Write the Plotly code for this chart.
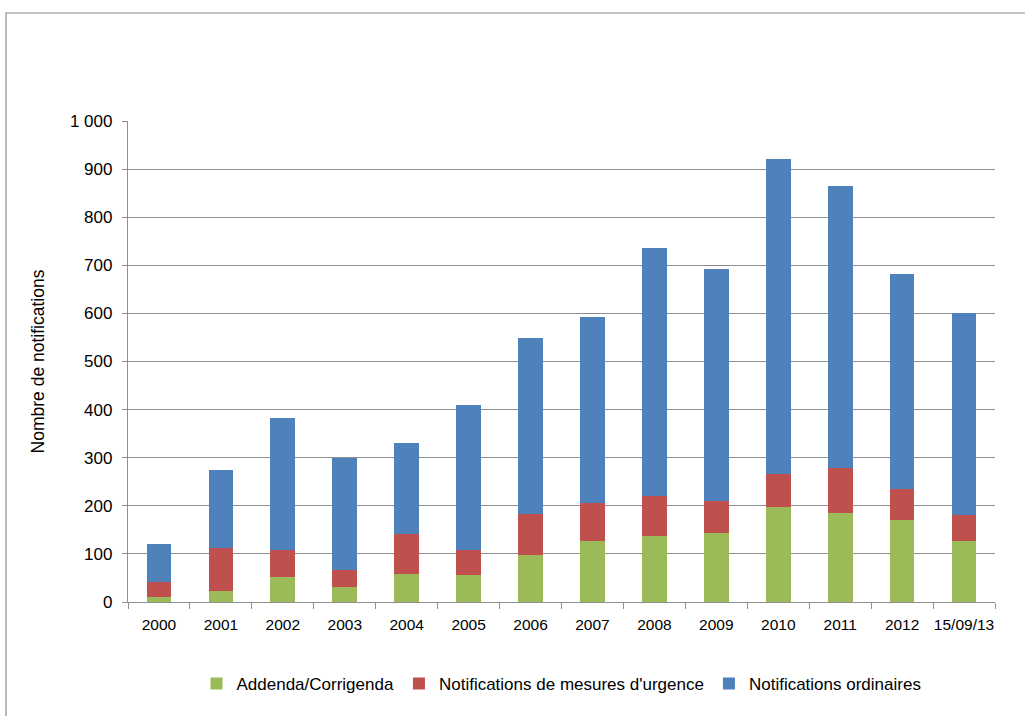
import plotly.graph_objects as go

categories = ["2000", "2001", "2002", "2003", "2004", "2005", "2006",
              "2007", "2008", "2009", "2010", "2011", "2012", "15/09/13"]
addenda = [11, 23, 51, 31, 58, 56, 97, 127, 137, 143, 198, 186, 170, 127]
urgence = [30, 89, 58, 36, 84, 53, 85, 78, 83, 66, 69, 93, 64, 53]
ordinaires = [79, 163, 273, 233, 189, 301, 366, 387, 517, 483, 653, 585, 447, 420]

W, H = 1025, 716
L, R, T, B = 128, 30, 121, 114
pw, ph = W - L - R, H - T - B


def px(x):
    return (x - L) / pw


def py(y):
    return (H - B - y) / ph


font = "Liberation Sans"
fig = go.Figure()
series = [
    ("Addenda/Corrigenda", addenda, "#9bbb59"),
    ("Notifications de mesures d'urgence", urgence, "#c0504d"),
    ("Notifications ordinaires", ordinaires, "#4f81bd"),
]
for name, vals, col in series:
    fig.add_trace(go.Bar(x=categories, y=vals, name=name,
                         marker=dict(color=col, line=dict(width=0))))

fig.update_layout(
    width=W, height=H,
    margin=dict(l=L, r=R, t=T, b=B),
    barmode="stack", bargap=0.6,
    plot_bgcolor="white", paper_bgcolor="white",
    separators=", ",
    font=dict(family=font, size=15, color="#000"),
    legend=dict(orientation="h", x=0.5, xanchor="center", y=py(684), yanchor="middle",
                font=dict(size=17), traceorder="normal", itemwidth=30),
    shapes=[dict(type="rect", xref="paper", yref="paper",
                 x0=px(6), x1=px(1040), y0=py(730), y1=py(13),
                 line=dict(color="#8c8c8c", width=1.2), layer="below")],
)
fig.update_yaxes(range=[0, 1000], dtick=100, tickformat=",d",
                 tickfont=dict(size=17), ticklabelstandoff=6,
                 showgrid=True, gridcolor="#8f8f8f", gridwidth=1.3,
                 showline=True, linecolor="#8f8f8f", linewidth=1.3,
                 ticks="outside", ticklen=5, tickcolor="#8f8f8f",
                 title=dict(text="Nombre de notifications", font=dict(size=17.5), standoff=20),
                 zeroline=False)
fig.update_xaxes(showline=True, linecolor="#8f8f8f", linewidth=1.3,
                 tickangle=0, tickfont=dict(size=15.5), ticklabelstandoff=8,
                 ticks="outside", tickson="boundaries", ticklen=6, tickcolor="#8f8f8f",
                 showgrid=False)

fig.write_html("out.html")
